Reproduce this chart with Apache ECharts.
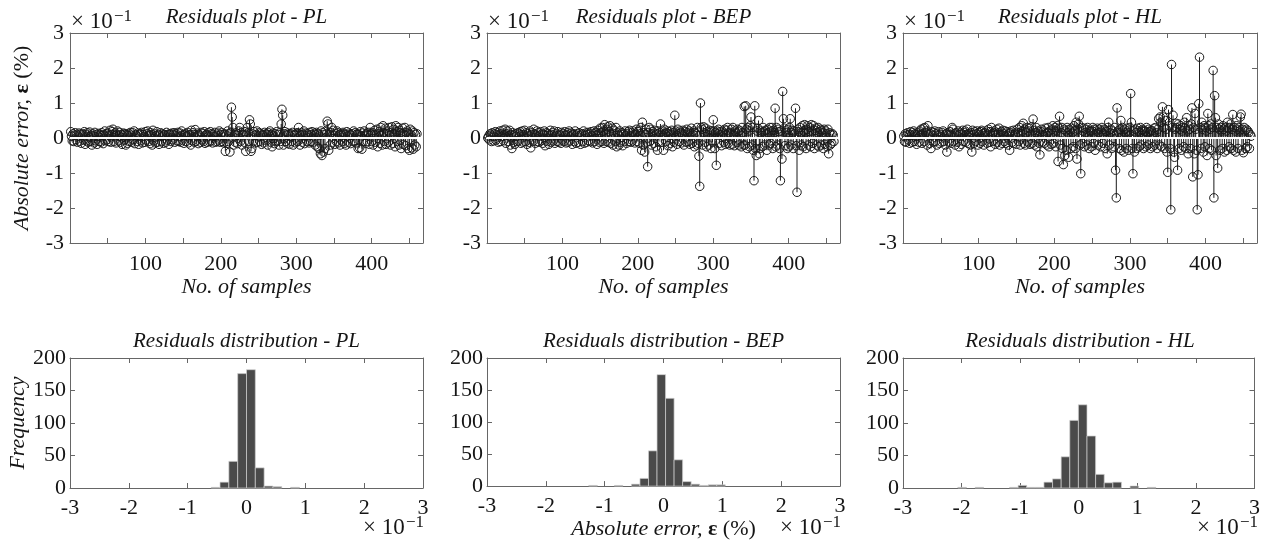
<!DOCTYPE html>
<html>
<head>
<meta charset="utf-8">
<script src="https://cdn.jsdelivr.net/npm/echarts@6/dist/echarts.min.js"></script>
<style>
html,body{margin:0;padding:0;background:#fff;}
#chart{width:1263px;height:541px;}
</style>
</head>
<body>
<div id="chart"></div>
<script>
// ---------- DATA (residuals in units of ×10^-1 %) ----------
const stemTitles = ['Residuals plot - PL', 'Residuals plot - BEP', 'Residuals plot - HL'];
const histTitles = ['Residuals distribution - PL', 'Residuals distribution - BEP', 'Residuals distribution - HL'];
const xTickLabels = [100, 200, 300, 400];

const plValues = [
 .18,.05,-.08,.12,-.1,.08,.15,-.05,.1,-.12,.06,.14,-.09,.11,-.15,.08,.12,-.06,.18,-.18,
 .1,-.08,.15,-.12,.05,.17,-.1,.08,-.2,.12,.06,-.14,.16,-.08,.1,-.18,.05,.13,-.1,.09,
 -.12,.15,.07,-.16,.1,.2,-.08,.12,-.05,.14,-.1,.08,.22,-.12,.1,.18,.25,-.1,.06,.15,
 -.14,.1,.2,-.08,.05,.16,-.12,.1,-.18,.08,.14,-.06,.12,-.2,.1,-.15,.07,.13,-.1,.16,
 .08,-.12,.15,-.05,.2,-.16,.1,.06,-.1,.14,-.18,.09,.12,-.08,.16,-.14,.1,.05,-.12,.18,
 -.06,.12,.2,-.1,.08,-.16,.15,.1,-.2,.22,-.08,.12,-.14,.06,.18,-.12,.1,-.18,.08,.15,
 -.1,.05,.12,-.15,.1,.08,-.12,.16,-.06,.1,-.18,.12,.08,-.1,.14,-.05,.1,.15,-.12,.06,
 .12,-.08,.16,-.1,.05,.14,-.12,.2,-.06,.1,-.15,.08,.12,-.1,.06,.16,-.14,.1,.08,-.2,
 .22,-.08,.15,.1,-.12,.24,-.1,.06,.14,-.16,.1,.08,-.12,.16,-.05,.12,-.1,.18,-.15,.08,
 .1,-.12,.15,.06,-.1,.18,-.08,.12,-.14,.1,.05,.16,-.12,.08,-.1,.14,-.06,.2,-.12,.1,
 .15,-.1,.08,-.14,.12,-.38,.1,-.15,.2,-.1,.12,-.4,.16,.88,.6,.3,-.2,.1,-.12,.15,
 .08,-.16,.12,.2,.3,-.1,.15,-.2,.1,.08,-.12,.18,-.38,.1,.3,.15,-.1,.52,.4,-.38,
 -.3,.12,-.1,.18,.08,-.14,.1,.2,-.12,.06,.15,-.1,.12,-.18,.08,.1,-.14,.16,-.06,.12,
 .1,-.2,.15,.08,.2,-.12,.1,-.25,.14,.06,-.16,.12,-.1,.18,-.08,.1,-.2,.15,-.1,.4,
 .82,.65,-.2,.12,.18,-.1,.08,-.15,.14,.1,-.18,.06,.12,-.1,.16,-.2,.1,.08,-.14,.12,
 .15,-.1,.3,.12,-.2,.08,.15,-.12,.1,.2,-.16,.06,.14,-.1,.12,.08,-.14,.16,-.1,.1,
 .18,-.12,.06,.14,-.2,.1,.16,-.25,.12,-.3,.08,-.45,.2,-.5,.15,-.4,.1,-.3,.2,.12,
 .48,.4,-.35,.1,-.2,.15,.3,-.12,.22,.08,-.18,.12,-.1,.2,.15,-.14,.1,-.2,.12,.08,
 -.1,.16,.12,-.15,.1,-.2,.18,.06,-.12,.14,.1,-.16,.08,.12,-.1,.2,-.08,.15,-.14,.1,
 .12,-.3,.1,-.28,.18,.06,-.32,.14,-.1,.2,.08,-.15,.12,-.1,.16,.1,-.18,.3,.12,-.1,
 .15,-.2,.1,.22,-.12,.08,.25,-.25,.12,.18,-.15,.3,.1,-.2,.35,.15,-.1,.28,-.18,.12,
 .2,-.12,.3,.15,-.2,.1,.32,-.15,.25,.12,-.25,.35,.18,-.1,.3,-.2,.22,.15,-.3,.12,
 .28,-.18,.1,.3,-.22,.15,.2,-.3,.12,-.35,.25,.1,-.28,.2,-.32,.15,-.2,.1,-.25,.12
];

const bepValues = [
 0,.05,-.05,.12,.08,-.1,.15,.05,-.08,.12,.18,-.06,.1,.15,-.12,.08,.2,-.1,.12,.05,
 .22,-.08,.1,.25,-.15,.12,.2,-.1,.06,.22,-.2,.1,-.3,.15,-.12,.08,-.18,.12,.05,-.1,
 .15,-.08,.12,.18,-.15,.1,.2,-.12,.08,.22,-.1,.15,-.18,.12,.06,-.12,.2,-.28,.1,.15,
 -.1,.25,.12,-.15,.08,.2,-.1,.15,-.12,.06,.18,-.08,.12,-.15,.1,.2,-.22,.08,.15,-.1,
 .12,-.18,.08,.22,-.12,.1,.15,-.08,.2,-.15,.06,.12,-.1,.18,-.12,.1,.08,-.15,.16,-.06,
 .12,-.1,.18,.08,-.14,.1,.15,-.12,.2,-.08,.06,.14,-.18,.1,.12,-.1,.2,-.15,.08,.12,
 -.12,.15,.06,-.18,.1,.12,-.1,.2,-.15,.08,.14,-.12,.1,.16,-.08,.12,-.1,.18,.06,-.14,
 .12,.2,-.1,.15,.08,-.18,.22,.12,-.12,.28,.15,-.1,.3,.2,-.15,.38,.12,-.1,.25,.32,
 -.12,.18,.35,-.15,.1,.28,-.2,.22,.12,-.1,.3,-.25,.15,.08,-.2,.2,-.12,.1,.15,-.22,
 .12,-.1,.2,.08,-.15,.12,.18,-.1,.22,.06,-.12,.15,-.08,.2,.1,-.14,.12,.25,-.1,.18,
 .2,-.15,.12,.3,-.35,.45,-.2,.15,-.4,.1,.25,-.12,-.82,.15,.3,-.1,.25,-.2,.12,.18,
 -.15,.22,.1,-.25,.12,-.35,.2,-.1,.15,.4,-.12,.1,.2,-.35,.25,.12,-.1,.15,.2,-.22,
 .12,.18,-.15,.1,.22,-.25,.15,-.12,.65,.2,.08,-.18,.25,.12,-.1,.2,.15,-.14,.12,.22,
 -.2,.1,.18,-.12,.25,.15,-.1,.2,-.18,.12,.28,-.15,.1,.2,-.25,.15,.12,-.2,.3,-.15,
 -.52,-1.38,1.0,.3,.25,-.2,.32,.15,-.12,.28,-.25,.18,.1,-.2,.22,.15,-.3,.2,-.12,.52,
 .2,-.3,.15,-.78,.2,.12,.25,-.15,.18,.1,-.22,.2,.15,-.12,.25,-.18,.1,.22,.3,-.15,
 .15,-.2,.12,.25,-.18,.3,.1,-.22,.2,.15,-.12,.25,.18,-.2,.22,.1,-.25,.3,.15,-.2,
 .9,-.2,.92,.25,-.3,.3,.2,-.25,.35,.6,-.2,.3,-.35,-1.22,.92,-.3,-.5,.2,.28,.5,
 -.45,-.3,.2,.15,-.25,.3,.18,-.2,.22,.12,-.35,.25,.15,-.2,.3,-.15,.2,.3,-.3,.22,
 .15,.85,-.25,.3,-.2,.25,.18,-.3,-1.22,.2,-.6,1.33,.55,.28,-.22,.2,.15,-.3,.25,-.25,
 .3,.55,-.2,.22,.15,-.3,.2,.12,.85,-.22,-1.55,.25,.18,-.35,.3,.15,-.2,.35,-.25,.2,
 .38,.15,-.3,.25,.35,-.2,.18,.3,-.25,.38,.2,-.15,.35,-.3,.22,.28,-.2,.15,.3,-.25,
 .18,.25,-.2,.22,.15,-.3,.25,-.18,.2,.12,-.25,.25,-.45,.15,-.2,.1,-.15,.12,.08,-.1
];

const hlValues = [
 .05,-.1,.12,-.12,.08,.15,-.05,.1,-.15,.18,.08,-.12,.15,.2,-.1,.12,.05,-.18,.15,.1,
 -.12,.2,.08,.25,-.15,.12,.28,-.1,.3,.15,.2,-.2,.35,.1,-.15,.12,-.3,.18,.08,-.12,
 .15,.2,-.1,.12,-.2,.08,.18,-.15,.1,.05,-.12,.15,.2,-.1,.08,-.2,.12,-.4,.15,.1,
 -.12,.18,.08,-.15,.3,.25,-.1,.12,-.2,.15,.08,-.12,.2,-.25,.1,.15,-.18,.12,.22,-.1,
 .15,.2,-.12,.1,.25,-.15,.12,.08,-.2,.15,-.4,.22,.1,-.15,.18,-.1,.12,.2,-.2,.15,
 .1,-.15,.18,.22,-.1,.12,-.2,.15,.08,.2,-.15,.1,.25,-.12,.18,-.25,.3,.12,-.1,.15,
 .2,-.18,.1,.25,-.12,.15,.28,-.2,.1,.18,-.15,.22,.12,-.1,.2,-.15,.08,.18,-.2,.12,
 -.35,.15,.2,-.12,.1,.22,-.15,.12,.08,-.18,.25,.15,-.1,.3,-.2,.12,.35,.2,.42,-.15,
 .25,-.2,.15,.3,-.12,.2,.28,-.18,.1,.32,-.15,.54,.22,-.2,.15,.3,-.25,.12,.2,-.15,
 -.48,.18,.25,-.12,.1,.2,-.15,.28,.12,-.2,.15,.3,-.25,.2,.12,-.18,.25,.35,-.15,.2,
 .3,-.25,.2,.35,-.67,.28,.62,-.2,.15,.3,-.3,-.76,.25,-.5,.2,-.35,.3,.15,-.55,.25,
 .2,-.3,.28,.15,-.25,.35,.2,-.3,.45,-.6,.25,.4,.62,-.2,-1.02,.3,-.15,.2,.28,-.25,
 .15,.25,-.2,.3,.12,-.3,.22,.18,-.25,.2,.3,-.15,.25,-.35,.12,.2,.28,-.2,.15,.25,
 -.25,.2,.3,-.15,.12,.25,-.3,.2,.18,-.45,.3,.45,-.2,.15,.25,-.3,.2,.12,-.25,.3,
 -.92,-1.71,.86,.2,.15,-.3,.25,.5,-.35,.3,.2,-.4,.25,.15,-.3,.28,.2,-.35,.15,.3,
 1.27,.45,-.3,-1.02,.2,-.4,.25,.15,-.3,.28,.2,-.25,.15,.3,-.2,.22,.25,-.3,.18,.2,
 -.25,.3,.15,-.2,.25,.18,-.3,.22,.2,-.25,.12,.28,-.2,.3,.15,-.3,.25,.55,-.2,.6,
 .45,-.25,.89,.6,.3,-.3,.5,.25,-.4,-.98,.81,.35,-.3,-2.05,2.1,.3,.65,-.4,-.55,.25,
 .42,.3,-.92,.4,-.3,.25,.35,-.35,.2,.3,-.25,.45,.28,-.3,.58,.2,-.45,.35,.25,-.3,
 .4,.86,-1.11,.3,-.45,.7,.25,-.35,-2.05,-1.05,.98,2.31,.3,-.3,.45,.25,-.4,.35,-.25,.3,
 .2,-.5,.7,.35,-.3,.25,.4,-.35,.3,1.93,-1.71,1.21,.58,-.5,.3,-.86,.4,.25,-.35,.3,
 .2,-.3,.35,.25,-.4,.3,.2,-.35,.45,.28,-.25,.3,.4,-.3,.25,.67,-.35,.3,.2,-.4,
 .35,.25,-.3,.3,.2,.6,.68,-.35,.25,-.42,.3,.2,-.3,.25,-.25,.2,.15,-.3,.1,.05
];

// Histogram bins: left edges (×10^-1 %), bin widths and counts
const plBinLeft  = [-0.6,-0.45,-0.3,-0.15,0,0.15,0.3,0.45,0.75];
const plBinWidth = 0.15;
const plCounts   = [1,9,41,176,182,31,3,2,1];

const bepBinLeft  = [-1.27,-0.835,-0.545,-0.40,-0.255,-0.11,0.035,0.18,0.325,0.47,0.615,0.76,0.905];
const bepBinWidth = 0.145;
const bepCounts   = [1,1,3,12,55,174,137,41,7,3,1,2,2];

const hlBinLeft  = [-2.064,-1.77,-1.182,-1.035,-0.888,-0.741,-0.594,-0.447,-0.3,-0.153,-0.006,0.141,0.288,0.435,0.582,0.876,1.17];
const hlBinWidth = 0.147;
const hlCounts   = [1,1,1,4,1,1,9,14,48,104,128,80,21,8,9,3,1];

// ---------- LAYOUT ----------
const FONT = "'Liberation Serif','DejaVu Serif',serif";
const FS = 22;
const TXT = '#151515';
const AX = '#666';
const cols = [{left:70,width:353},{left:487,width:353},{left:903,width:354}];
const topRow = {top:33,height:210};
const botRow = {top:358,height:130};
const X_MAX = 468;

const stemSets = [plValues, bepValues, hlValues];
const histSets = [
  {left:plBinLeft, w:plBinWidth, c:plCounts},
  {left:bepBinLeft, w:bepBinWidth, c:bepCounts},
  {left:hlBinLeft, w:hlBinWidth, c:hlCounts}
];

const grid=[], xAxis=[], yAxis=[], series=[], graphic=[];

function tickStyle(){return {show:true,inside:true,length:5,lineStyle:{color:AX,width:1}};}
function lineStyle(){return {show:true,onZero:false,lineStyle:{color:AX,width:1}};}
const richName = {
  i:{fontFamily:FONT,fontSize:FS,fontStyle:'italic',color:TXT},
  b:{fontFamily:FONT,fontSize:FS,fontWeight:'bold',color:TXT},
  n:{fontFamily:FONT,fontSize:FS,color:TXT}
};

function addAxes(gi, xcfg, ycfg){
  xAxis.push(Object.assign({type:'value',gridIndex:gi,position:'bottom',axisLine:lineStyle(),axisTick:tickStyle(),splitLine:{show:false}}, xcfg.main));
  xAxis.push(Object.assign({type:'value',gridIndex:gi,position:'top',axisLine:lineStyle(),axisTick:tickStyle(),axisLabel:{show:false},splitLine:{show:false}}, xcfg.base));
  yAxis.push(Object.assign({type:'value',gridIndex:gi,position:'left',axisLine:lineStyle(),axisTick:tickStyle(),splitLine:{show:false}}, ycfg.main));
  yAxis.push(Object.assign({type:'value',gridIndex:gi,position:'right',axisLine:lineStyle(),axisTick:tickStyle(),axisLabel:{show:false},splitLine:{show:false}}, ycfg.base));
}

function addTimes10(x, yBase){
  graphic.push({type:'text',x:x,y:yBase,style:{text:'× 10',font:'23px '+FONT,fill:TXT,textAlign:'left',textVerticalAlign:'bottom'}});
  graphic.push({type:'text',x:x+43,y:yBase-8,style:{text:'−1',font:'17px '+FONT,fill:TXT,textAlign:'left',textVerticalAlign:'bottom'}});
}

// ---- top row: stem plots ----
for(let k=0;k<3;k++){
  const gi = grid.length;
  grid.push({left:cols[k].left,top:topRow.top,width:cols[k].width,height:topRow.height,containLabel:false});
  const xb = {min:0,max:X_MAX,interval:50};
  const yb = {min:-3,max:3,interval:1};
  addAxes(gi,
    {base:xb, main:Object.assign({}, xb, {
      name:'No. of samples',nameLocation:'middle',nameGap:27,
      nameTextStyle:{fontFamily:FONT,fontSize:FS,fontStyle:'italic',color:TXT},
      axisLabel:{show:true,margin:10,fontFamily:FONT,fontSize:FS,color:TXT,
        formatter:v=>xTickLabels.indexOf(v)>=0?String(v):'',showMinLabel:true,showMaxLabel:false}
    })},
    {base:yb, main:Object.assign({}, yb, {
      axisLabel:{margin:6,fontFamily:FONT,fontSize:FS,color:TXT},
      name: k===0 ? '{i|Absolute error, }{b|ε}{n| (%)}' : '',
      nameLocation:'middle',nameGap:37,nameRotate:90,
      nameTextStyle:{fontFamily:FONT,fontSize:FS,color:TXT,rich:richName}
    })}
  );
  const xi = gi*2, yi = gi*2;
  const pts = stemSets[k].map((v,i)=>[i+1, v]);
  series.push({
    type:'custom',xAxisIndex:xi,yAxisIndex:yi,data:pts,clip:true,z:2,silent:true,
    renderItem:(params,api)=>{
      const a = api.coord([api.value(0),0]);
      const b = api.coord([api.value(0),api.value(1)]);
      return {type:'line',shape:{x1:a[0],y1:a[1],x2:b[0],y2:b[1]},style:{stroke:'#1a1a1a',lineWidth:1}};
    }
  });
  series.push({
    type:'scatter',xAxisIndex:xi,yAxisIndex:yi,data:pts,symbol:'circle',symbolSize:8.5,z:3,silent:true,
    itemStyle:{color:'rgba(0,0,0,0)',borderColor:'#1a1a1a',borderWidth:1,opacity:1},
    animation:false
  });
  series.push({
    type:'line',xAxisIndex:xi,yAxisIndex:yi,data:[[0,0],[X_MAX,0]],symbol:'none',z:5,silent:true,
    lineStyle:{color:'#fff',width:2},animation:false
  });
  const cx = cols[k].left + cols[k].width/2;
  graphic.push({type:'text',x:cx,y:17,style:{text:stemTitles[k],font:'italic 21px '+FONT,fill:TXT,textAlign:'center',textVerticalAlign:'middle'}});
  addTimes10(cols[k].left+1, 33);
}

// ---- bottom row: histograms ----
for(let k=0;k<3;k++){
  const gi = grid.length;
  grid.push({left:cols[k].left,top:botRow.top,width:cols[k].width,height:botRow.height,containLabel:false});
  const xb = {min:-3,max:3,interval:1};
  const yb = {min:0,max:200,interval:50};
  addAxes(gi,
    {base:xb, main:Object.assign({}, xb, {
      name: k===1 ? '{i|Absolute error, }{b|ε}{n| (%)}' : '',
      nameLocation:'middle',nameGap:30,
      nameTextStyle:{fontFamily:FONT,fontSize:FS,color:TXT,rich:richName},
      axisLabel:{margin:9,fontFamily:FONT,fontSize:FS,color:TXT}
    })},
    {base:yb, main:Object.assign({}, yb, {
      axisLabel:{margin:4,fontFamily:FONT,fontSize:FS,color:TXT},
      name: k===0 ? 'Frequency' : '',
      nameLocation:'middle',nameGap:37,nameRotate:90,
      nameTextStyle:{fontFamily:FONT,fontSize:FS,fontStyle:'italic',color:TXT}
    })}
  );
  const xi = gi*2, yi = gi*2;
  const h = histSets[k];
  const data = h.left.map((lo,i)=>[lo, h.c[i], lo + h.w]);
  series.push({
    type:'custom',xAxisIndex:xi,yAxisIndex:yi,data:data,silent:true,
    encode:{x:[0,2],y:1},
    renderItem:(params,api)=>{
      const a = api.coord([api.value(0),api.value(1)]);
      const b = api.coord([api.value(2),0]);
      return {type:'rect',shape:{x:a[0],y:a[1],width:b[0]-a[0],height:b[1]-a[1]},
        style:{fill:'#4a4a4a',stroke:'#d0d0d0',lineWidth:0.7}};
    }
  });
  const cx = cols[k].left + cols[k].width/2;
  graphic.push({type:'text',x:cx,y:341,style:{text:histTitles[k],font:'italic 21px '+FONT,fill:TXT,textAlign:'center',textVerticalAlign:'middle'}});
  addTimes10(cols[k].left+cols[k].width-60, 539);
}

const chart = echarts.init(document.getElementById('chart'),null,{renderer:'canvas'});
chart.setOption({
  backgroundColor:'#fff',
  animation:false,
  grid, xAxis, yAxis, series, graphic
});
</script>
</body>
</html>
